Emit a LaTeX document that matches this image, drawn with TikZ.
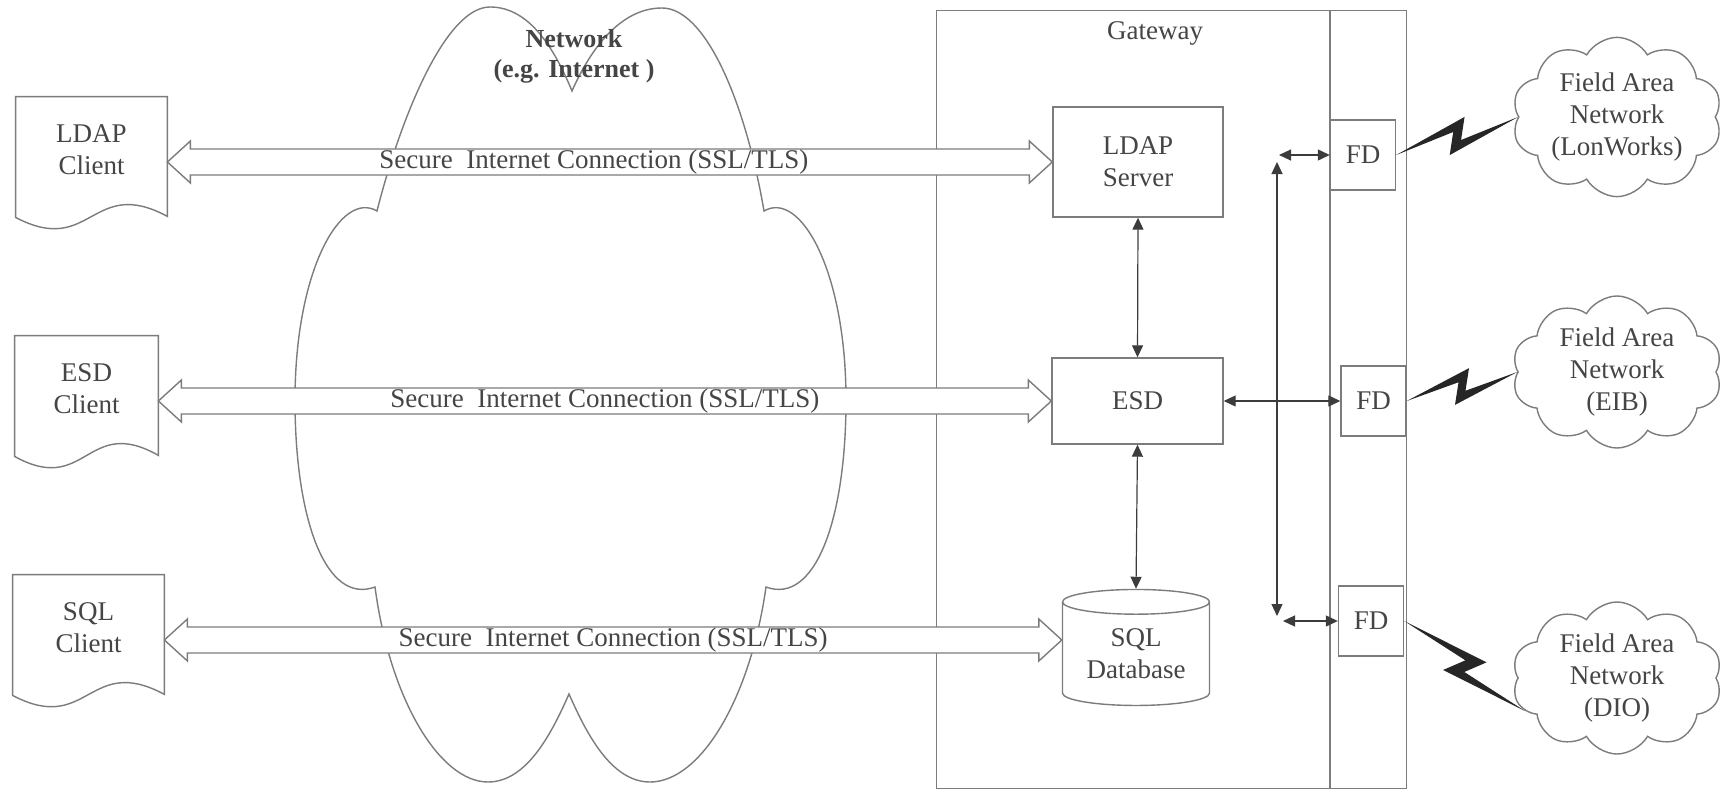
\documentclass[tikz,border=0pt]{standalone}
\usepackage{fontspec}
\setmainfont{Liberation Serif}
\usetikzlibrary{calc,shapes.geometric,shapes.symbols,arrows.meta}
\definecolor{ln}{HTML}{7C7C7C}
\definecolor{tx}{HTML}{454545}
\definecolor{ar}{HTML}{3C3C3C}
\newcommand\drawdoc[1]{\draw[outl] (#1.north west) -- (#1.north east) -- ($(#1.south east)+(0,-11)$) .. controls ($(#1.south)+(0,-52)$) and ($(#1.south)+(0,30)$) .. ($(#1.south west)+(0,-10)$) -- cycle;}
\newcommand\bigarr[2]{\draw[bigarrow] (#1) -- ++(23,-21) -- ++(0,8) -- ($(#2)+(-23,-13)$) -- ++(0,-8) -- (#2) -- ++(-23,21) -- ++(0,-8) -- ($(#1)+(23,13)$) -- ++(0,8) -- cycle;}
\newcommand\drawbolt[2]{\fill[boltstyle] (#1) -- ($(#1)!0.6!(#2)!8pt!90:(#2)$) -- ($(#1)!0.52!(#2)!2.5pt!-90:(#2)$) -- (#2) -- ($(#1)!0.4!(#2)!8pt!-90:(#2)$) -- ($(#1)!0.48!(#2)!2.5pt!90:(#2)$) -- cycle;}
\begin{document}
\begin{tikzpicture}[x=0.5pt,y=-0.5pt,
  font=\fontsize{13.5}{16}\selectfont, text=tx,
  outl/.style={draw=ln, line width=0.7pt},
  docnode/.style={minimum height=65pt, inner sep=0pt},
  box/.style={outl, rectangle, inner sep=0pt, align=center},
  fdbox/.style={box, minimum width=32.5pt, minimum height=35pt},
  fan/.style={cloud, cloud puffs=10, cloud puff arc=120, aspect=1.4, outl, align=center, minimum width=105pt, minimum height=76pt, inner sep=0pt},
  bigarrow/.style={outl, fill=white, line join=miter},
  bi/.style={draw=ar, line width=0.6pt, {Triangle[length=6pt,width=5.5pt]}-{Triangle[length=6pt,width=5.5pt]}},
  boltstyle/.style={fill=black!85}
]
\fill[white] (0,0) rectangle (1723,792);
\useasboundingbox (0,0) rectangle (1723,792);

% network cloud
\draw[outl] (377,211) .. controls (400,120) and (445,7) .. (490,7)
  .. controls (530,7) and (555,50) .. (572,91)
  .. controls (590,50) and (620,8) .. (662,8)
  .. controls (705,8) and (745,100) .. (764,211)
  .. controls (800,190) and (846,270) .. (846,400)
  .. controls (846,520) and (815,605) .. (766,587)
  .. controls (750,700) and (700,782) .. (650,782)
  .. controls (610,782) and (585,730) .. (569,694)
  .. controls (553,730) and (528,782) .. (488,782)
  .. controls (440,782) and (390,700) .. (375,587)
  .. controls (326,605) and (295,520) .. (295,400)
  .. controls (295,270) and (341,190) .. (377,211) -- cycle;
\node[font=\fontsize{13}{15}\selectfont\bfseries, align=center] (netl) at (574,56) {Network\\(e.g. Internet )};

% gateway
\node[outl, minimum width=235pt, minimum height=389pt, anchor=north west, inner sep=0pt] (gw) at (936,10) {};
\coordinate (gi) at (1330,10);
\draw[outl] (gi) -- (gi |- gw.south);
\node (gwl) at (1155,33) {Gateway};

% clients
\node[docnode, minimum width=75.5pt, label={[align=center, yshift=6pt]center:LDAP\\Client}] (lc) at (91.5,162) {};
\node[docnode, minimum width=71.5pt, label={[align=center, yshift=6pt]center:ESD\\Client}] (ec) at (86.5,401) {};
\node[docnode, minimum width=75.5pt, label={[align=center, yshift=6pt]center:SQL\\Client}] (sc) at (88.5,640) {};
\drawdoc{lc}
\drawdoc{ec}
\drawdoc{sc}

% gateway content
\node[box, minimum width=85pt, minimum height=55pt] (ls) at (1138,162) {LDAP\\Server};
\node[box, minimum width=85.5pt, minimum height=43pt] (esd) at (1137.5,401) {ESD};
\node[cylinder, shape border rotate=90, aspect=0.25, outl, minimum width=73.5pt, minimum height=58pt, inner sep=0pt, align=center] (sql) at (1136,654) {SQL\\Database};

\node[fdbox] (fd1) at (1363,155) {FD};
\node[fdbox] (fd2) at (1373.5,401) {FD};
\node[fdbox] (fd3) at (1371,621) {FD};

% field area networks
\node[fan] (c1) at (1617,117) {Field Area\\Network\\(LonWorks)};
\node[fan] (c2) at (1617,372) {Field Area\\Network\\(EIB)};
\node[fan] (c3) at (1617,678) {Field Area\\Network\\(DIO)};

% secure connections
\coordinate (sqlw) at (sc.east -| sql.west);
\bigarr{lc.east}{ls.west}
\bigarr{ec.east}{esd.west}
\bigarr{sc.east}{sqlw}
\node (t1) at ($(lc.east)!0.5!(ls.west)$) [xshift=-8pt] {Secure\ \ Internet Connection (SSL/TLS)};
\node (t2) at ($(ec.east)!0.5!(esd.west)$) {Secure\ \ Internet Connection (SSL/TLS)};
\node (t3) at ($(sc.east)!0.5!(sqlw)$) {Secure\ \ Internet Connection (SSL/TLS)};

% internal connectors
\draw[bi] (ls.south) -- (esd.north);
\draw[bi] (esd.south) -- (sql.north);
\draw[bi] (esd.east) -- (fd2.west);
\coordinate (vt) at (1277,162);
\coordinate (vb) at (1277,616);
\coordinate (ht) at (1279,155);
\coordinate (hb) at (1283,621);
\draw[bi] (vb) -- (vt);
\draw[bi] (ht) -- (ht -| fd1.west);
\draw[bi] (hb) -- (hb -| fd3.west);

% radio links
\drawbolt{fd1.east}{c1.west}
\drawbolt{fd2.east}{c2.west}
\drawbolt{fd3.east}{c3.200}
\end{tikzpicture}
\end{document}
